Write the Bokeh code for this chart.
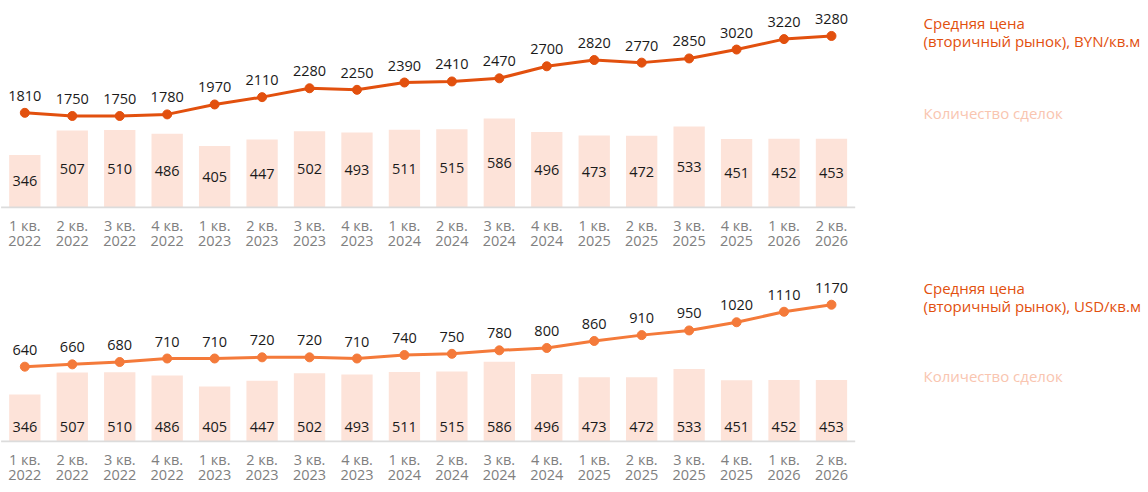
from bokeh.plotting import figure
from bokeh.models import Range1d, ColumnDataSource, FixedTicker
from bokeh.layouts import column
from bokeh.embed import file_html
from bokeh.resources import INLINE
from bokeh.core.properties import value

quarters = ["1 кв.", "2 кв.", "3 кв.", "4 кв."] * 4 + ["1 кв.", "2 кв."]
years = ["2022"] * 4 + ["2023"] * 4 + ["2024"] * 4 + ["2025"] * 4 + ["2026"] * 2
deals = [346, 507, 510, 486, 405, 447, 502, 493, 511, 515, 586, 496, 473, 472, 533, 451, 452, 453]
price_byn = [1810, 1750, 1750, 1780, 1970, 2110, 2280, 2250, 2390, 2410, 2470, 2700,
             2820, 2770, 2850, 3020, 3220, 3280]
price_usd = [640, 660, 680, 710, 710, 720, 720, 710, 740, 750, 780, 800,
             860, 910, 950, 1020, 1110, 1170]

legend_price_byn = ["Средняя цена", "(вторичный рынок), BYN/кв.м"]
legend_price_usd = ["Средняя цена", "(вторичный рынок), USD/кв.м"]
legend_deals = "Количество сделок"

FONT = "Open Sans"
N = len(deals)
xs = [i + 0.5 for i in range(N)]
tick_labels = {x: f"{q}\n{y}" for x, q, y in zip(xs, quarters, years)}

W = 1148
PX = 47.45           # pixels per category
X0 = -0.6 / PX
X1 = (W - 0.6) / PX
LEG_X = (923 - 0.6) / PX


def panel(prices, line_color, k_line, k_bar, frame_h, bottom_border,
          legend_lines, leg_ys, deals_y, bars_mid):
    src = ColumnDataSource(dict(
        x=xs,
        deals=deals,
        deals_mid=[d / 2 for d in deals],
        deals_txt=[str(d) for d in deals],
        price=prices,
        price_txt=[str(v) for v in prices],
    ))
    p = figure(x_range=Range1d(X0, X1),
               y_range=Range1d(-1 / k_line, (frame_h - 1) / k_line),
               frame_width=W, frame_height=frame_h,
               min_border_left=0, min_border_right=0, min_border_top=0,
               min_border_bottom=bottom_border,
               output_backend="svg", toolbar_location=None, y_axis_location=None)
    p.extra_y_ranges = {"bars": Range1d(-1 / k_bar, (frame_h - 1) / k_bar)}
    p.vbar(x="x", top="deals", width=0.66, source=src, y_range_name="bars",
           fill_color="#FDE3D9", line_color=None)
    # baseline of the category axis
    p.segment(x0=0, y0=0, x1=N, y1=0, line_color="#DCDCDC", line_width=2)
    p.line("x", "price", source=src, line_width=3, color=line_color)
    p.scatter("x", "price", source=src, size=9, color=line_color)
    p.text(x="x", y="price", text="price_txt", source=src, y_offset=-17,
           text_align="center", text_baseline="middle", text_font=value(FONT),
           text_font_size="14.5px", text_color="#1a1a1a")
    if bars_mid:
        p.text(x="x", y="deals_mid", text="deals_txt", source=src, y_range_name="bars",
               text_align="center", text_baseline="middle", text_font=value(FONT),
               text_font_size="14.5px", text_color="#1a1a1a")
    else:
        p.text(x="x", y=0, text="deals_txt", source=src, y_range_name="bars", y_offset=-15,
               text_align="center", text_baseline="middle", text_font=value(FONT),
               text_font_size="14.5px", text_color="#1a1a1a")

    # legend texts
    p.text(x=[LEG_X, LEG_X], y=leg_ys, text=legend_lines, text_align="left",
           text_baseline="middle", text_font=value(FONT), text_font_size="15px",
           text_color="#E2500E")
    p.text(x=[LEG_X], y=[deals_y], text=[legend_deals], y_range_name="bars",
           text_align="left", text_baseline="middle", text_font=value(FONT),
           text_font_size="15px", text_color="#F9C5B0")

    p.xaxis.ticker = FixedTicker(ticks=xs)
    p.xaxis.major_label_overrides = tick_labels
    p.xaxis.axis_line_color = None
    p.xaxis.major_tick_line_color = None
    p.xaxis.minor_tick_line_color = None
    p.xaxis.major_label_text_color = "#808080"
    p.xaxis.major_label_text_font = FONT
    p.xaxis.major_label_text_font_size = "14.5px"
    p.xaxis.major_label_standoff = 1
    p.xaxis.major_label_text_line_height = 0.82
    p.xgrid.visible = False
    p.ygrid.visible = False
    p.outline_line_color = None
    return p


top = panel(price_byn, "#E2500E", 0.0523, 0.152, 208, 59,
            legend_price_byn, [3528, 3184], 625, True)
bottom = panel(price_usd, "#F47A3A", 0.1169, 0.136, 175, 50,
               legend_price_usd, [1309, 1163], 478, False)

layout = column(top, bottom, spacing=0)
open("out.html", "w").write(file_html(layout, INLINE))
